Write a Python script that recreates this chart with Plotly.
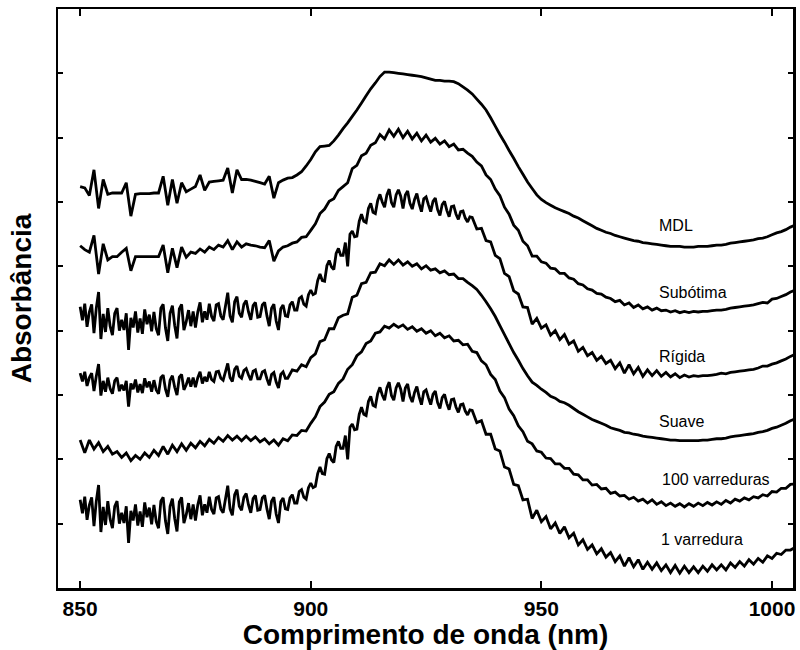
import plotly.graph_objects as go

# ---------------- data (absorbance, arbitrary offset units) ----------------
# 1 nm grid for the smoother spectra
wavelength = list(range(850, 1006))
# 0.5 nm grid in the noisy region, then 1 nm
wavelength_fine_935 = [850 + 0.5 * i for i in range(171)] + list(range(936, 1006))
wavelength_fine_895 = [850 + 0.5 * i for i in range(91)] + list(range(896, 1006))

mdl = [
    6.24, 6.22, 6.10, 6.50, 5.90, 6.35, 6.12, 6.14, 6.14, 6.14,
    6.30, 5.78, 6.12, 6.13, 6.13, 6.13, 6.14, 6.14, 6.40, 5.95,
    6.35, 5.98, 6.30, 6.16, 6.20, 6.24, 6.42, 6.18, 6.31, 6.32,
    6.33, 6.34, 6.53, 6.14, 6.50, 6.35, 6.35, 6.34, 6.32, 6.30,
    6.28, 6.40, 6.06, 6.30, 6.34, 6.37, 6.38, 6.42, 6.47, 6.56,
    6.66, 6.78, 6.86, 6.87, 6.88, 6.95, 7.04, 7.14, 7.23, 7.33,
    7.43, 7.54, 7.65, 7.76, 7.85, 7.95, 8.02, 8.02, 8.01, 8.00,
    7.99, 7.98, 7.97, 7.96, 7.95, 7.93, 7.91, 7.89, 7.89, 7.88,
    7.88, 7.87, 7.84, 7.79, 7.74, 7.68, 7.60, 7.52, 7.43, 7.31,
    7.18, 7.05, 6.93, 6.80, 6.68, 6.55, 6.43, 6.31, 6.21, 6.11,
    6.04, 5.99, 5.95, 5.91, 5.88, 5.85, 5.82, 5.78, 5.75, 5.71,
    5.67, 5.63, 5.59, 5.56, 5.53, 5.51, 5.48, 5.46, 5.44, 5.42,
    5.40, 5.39, 5.37, 5.36, 5.35, 5.34, 5.33, 5.32, 5.31, 5.31,
    5.31, 5.30, 5.30, 5.30, 5.31, 5.31, 5.31, 5.32, 5.33, 5.33,
    5.34, 5.36, 5.37, 5.38, 5.39, 5.40, 5.41, 5.43, 5.44, 5.46,
    5.49, 5.52, 5.54, 5.57, 5.61, 5.64,
]

subotima = [
    5.32, 5.26, 5.22, 5.48, 4.88, 5.35, 5.10, 5.15, 5.15, 5.22,
    5.28, 4.93, 5.15, 5.15, 5.15, 5.15, 5.15, 5.15, 5.33, 4.90,
    5.28, 4.98, 5.30, 5.14, 5.22, 5.20, 5.27, 5.22, 5.30, 5.26,
    5.33, 5.30, 5.40, 5.26, 5.38, 5.30, 5.35, 5.33, 5.32, 5.30,
    5.29, 5.40, 5.08, 5.24, 5.30, 5.32, 5.36, 5.38, 5.45, 5.46,
    5.56, 5.66, 5.82, 5.89, 6.01, 6.05, 6.18, 6.24, 6.30, 6.52,
    6.57, 6.72, 6.76, 6.88, 6.92, 7.05, 6.98, 7.12, 7.02, 7.13,
    7.00, 7.10, 6.98, 7.07, 6.95, 7.04, 6.93, 6.99, 6.90, 6.95,
    6.86, 6.90, 6.81, 6.82, 6.76, 6.71, 6.62, 6.56, 6.42, 6.35,
    6.20, 6.10, 5.92, 5.81, 5.64, 5.56, 5.39, 5.32, 5.16, 5.16,
    5.07, 5.05, 4.97, 4.96, 4.89, 4.89, 4.82, 4.80, 4.73, 4.71,
    4.65, 4.63, 4.58, 4.57, 4.52, 4.50, 4.45, 4.47, 4.40, 4.43,
    4.36, 4.40, 4.34, 4.37, 4.32, 4.35, 4.31, 4.32, 4.29, 4.31,
    4.28, 4.30, 4.28, 4.30, 4.29, 4.30, 4.30, 4.31, 4.32, 4.32,
    4.33, 4.35, 4.36, 4.37, 4.38, 4.39, 4.40, 4.42, 4.44, 4.43,
    4.49, 4.50, 4.53, 4.56, 4.60, 4.63,
]

rigida = [
    # 850.0 - 935.0 every 0.5 nm
    4.37, 4.16, 4.42, 4.06, 4.29, 4.41, 3.96, 4.35, 4.60, 3.87,
    4.26, 3.98, 4.35, 4.07, 3.93, 4.27, 4.35, 4.00, 4.17, 4.01,
    4.27, 3.70, 4.20, 4.05, 4.30, 3.97, 4.19, 3.95, 4.33, 4.10,
    4.25, 3.99, 4.29, 4.03, 3.93, 4.35, 4.41, 4.04, 3.84, 4.27,
    4.39, 4.08, 3.88, 4.34, 4.41, 4.01, 4.14, 4.32, 4.07, 4.30,
    4.05, 4.29, 4.44, 4.13, 4.30, 4.17, 4.42, 4.22, 4.15, 4.40,
    4.42, 4.23, 4.17, 4.38, 4.59, 4.23, 4.13, 4.45, 4.53, 4.27,
    4.21, 4.41, 4.47, 4.29, 4.17, 4.39, 4.44, 4.21, 4.22, 4.40,
    4.44, 4.23, 4.07, 4.35, 4.41, 4.15, 4.01, 4.34, 4.40, 4.23,
    4.22, 4.40, 4.45, 4.32, 4.32, 4.50, 4.53, 4.41, 4.38, 4.56,
    4.63, 4.56, 4.58, 4.78, 4.88, 4.78, 4.77, 5.01, 5.09, 4.99,
    4.95, 5.20, 5.28, 5.17, 5.17, 5.37, 5.00, 5.50, 5.55, 5.46,
    5.47, 5.70, 5.81, 5.70, 5.68, 5.90, 5.98, 5.84, 5.82, 6.02,
    6.12, 6.00, 5.92, 6.11, 6.20, 5.99, 5.92, 6.11, 6.19, 6.09,
    5.90, 6.11, 6.17, 5.98, 5.89, 6.04, 6.13, 5.97, 5.85, 6.05,
    6.08, 5.96, 5.85, 6.01, 6.06, 5.88, 5.79, 5.96, 6.01, 5.87,
    5.77, 5.93, 5.94, 5.81, 5.73, 5.85, 5.86, 5.75, 5.69, 5.77,
    5.76,
    # 936 - 1005 every 1 nm
    5.58, 5.59, 5.40, 5.38,
    5.17, 5.12, 4.89, 4.84, 4.62, 4.57, 4.37, 4.36, 4.10, 4.19,
    4.04, 4.09, 3.93, 4.00, 3.86, 3.94, 3.79, 3.84, 3.68, 3.74,
    3.61, 3.66, 3.54, 3.60, 3.49, 3.54, 3.41, 3.50, 3.34, 3.47,
    3.33, 3.43, 3.29, 3.39, 3.30, 3.38, 3.29, 3.35, 3.28, 3.33,
    3.27, 3.31, 3.28, 3.30, 3.29, 3.30, 3.30, 3.31, 3.32, 3.34,
    3.33, 3.35, 3.36, 3.37, 3.38, 3.39, 3.40, 3.42, 3.45, 3.45,
    3.48, 3.50, 3.53, 3.56, 3.60, 3.63,
]

suave = [
    # 850.0 - 895.0 every 0.5 nm
    3.34, 3.21, 3.36, 3.14, 3.27, 3.34, 3.06, 3.29, 3.48, 2.99,
    3.22, 3.05, 3.27, 3.10, 3.02, 3.22, 3.27, 3.06, 3.16, 3.07,
    3.22, 2.82, 3.18, 3.09, 3.24, 3.04, 3.17, 3.03, 3.26, 3.12,
    3.21, 3.05, 3.23, 3.08, 3.02, 3.27, 3.31, 3.09, 2.97, 3.23,
    3.30, 3.12, 3.00, 3.28, 3.32, 3.08, 3.16, 3.27, 3.13, 3.27,
    3.12, 3.27, 3.36, 3.18, 3.28, 3.21, 3.36, 3.24, 3.21, 3.36,
    3.37, 3.26, 3.23, 3.36, 3.49, 3.27, 3.21, 3.40, 3.45, 3.29,
    3.26, 3.38, 3.41, 3.31, 3.23, 3.37, 3.39, 3.25, 3.25, 3.36,
    3.38, 3.25, 3.15, 3.32, 3.35, 3.20, 3.11, 3.32, 3.36, 3.26,
    3.26,
    # 896 - 1005 every 1 nm
    3.39, 3.37, 3.47, 3.44,
    3.58, 3.64, 3.83, 3.86, 4.03, 4.03, 4.20, 4.24, 4.26, 4.52,
    4.55, 4.73, 4.75, 4.90, 4.91, 5.04, 5.01, 5.10, 5.03, 5.10,
    5.02, 5.07, 5.00, 5.04, 4.96, 5.01, 4.94, 4.96, 4.90, 4.93,
    4.87, 4.88, 4.81, 4.81, 4.75, 4.70, 4.64, 4.55, 4.45, 4.34,
    4.22, 4.08, 3.94, 3.80, 3.66, 3.54, 3.41, 3.30, 3.20, 3.15,
    3.09, 3.04, 2.98, 2.95, 2.90, 2.88, 2.84, 2.79, 2.74, 2.70,
    2.66, 2.62, 2.59, 2.56, 2.53, 2.49, 2.47, 2.45, 2.42, 2.41,
    2.39, 2.38, 2.36, 2.35, 2.34, 2.33, 2.32, 2.31, 2.30, 2.30,
    2.29, 2.29, 2.29, 2.29, 2.29, 2.30, 2.30, 2.31, 2.32, 2.32,
    2.33, 2.35, 2.36, 2.37, 2.38, 2.39, 2.40, 2.42, 2.43, 2.45,
    2.48, 2.50, 2.53, 2.56, 2.60, 2.63,
]

varreduras_100 = [
    2.30, 2.10, 2.30, 2.16, 2.26, 2.12, 2.20, 2.08, 2.12, 2.03,
    2.10, 1.98, 2.06, 2.00, 2.10, 2.03, 2.14, 2.06, 2.20, 2.08,
    2.22, 2.12, 2.24, 2.14, 2.25, 2.18, 2.28, 2.21, 2.31, 2.25,
    2.34, 2.28, 2.37, 2.30, 2.36, 2.29, 2.36, 2.29, 2.35, 2.27,
    2.32, 2.24, 2.30, 2.22, 2.32, 2.29, 2.38, 2.37, 2.45, 2.44,
    2.56, 2.66, 2.82, 2.89, 3.01, 3.05, 3.18, 3.25, 3.40, 3.47,
    3.61, 3.67, 3.80, 3.84, 3.96, 3.98, 4.07, 4.04, 4.10, 4.05,
    4.09, 4.02, 4.06, 3.99, 4.03, 3.96, 4.00, 3.92, 3.96, 3.89,
    3.92, 3.84, 3.85, 3.78, 3.79, 3.68, 3.66, 3.53, 3.47, 3.32,
    3.24, 3.06, 2.96, 2.78, 2.68, 2.52, 2.43, 2.28, 2.24, 2.13,
    2.11, 2.02, 2.01, 1.93, 1.93, 1.86, 1.86, 1.77, 1.76, 1.68,
    1.68, 1.60, 1.61, 1.54, 1.55, 1.47, 1.49, 1.43, 1.44, 1.38,
    1.41, 1.35, 1.38, 1.32, 1.37, 1.30, 1.34, 1.28, 1.32, 1.27,
    1.31, 1.26, 1.31, 1.27, 1.32, 1.28, 1.33, 1.29, 1.34, 1.30,
    1.36, 1.32, 1.38, 1.35, 1.40, 1.37, 1.42, 1.40, 1.45, 1.43,
    1.50, 1.49, 1.55, 1.55, 1.61, 1.62,
]

varredura_1 = [
    # 850.0 - 935.0 every 0.5 nm
    1.37, 1.16, 1.42, 1.06, 1.29, 1.41, 0.96, 1.35, 1.60, 0.87,
    1.26, 0.98, 1.35, 1.07, 0.93, 1.27, 1.35, 1.00, 1.17, 1.01,
    1.27, 0.70, 1.20, 1.05, 1.30, 0.97, 1.19, 0.95, 1.33, 1.10,
    1.25, 0.99, 1.29, 1.03, 0.93, 1.35, 1.41, 1.04, 0.84, 1.27,
    1.39, 1.08, 0.88, 1.34, 1.41, 1.01, 1.14, 1.32, 1.07, 1.30,
    1.05, 1.29, 1.44, 1.13, 1.30, 1.17, 1.42, 1.22, 1.15, 1.40,
    1.42, 1.23, 1.17, 1.38, 1.59, 1.23, 1.13, 1.45, 1.53, 1.27,
    1.21, 1.41, 1.47, 1.29, 1.17, 1.39, 1.44, 1.21, 1.22, 1.40,
    1.44, 1.23, 1.07, 1.35, 1.41, 1.15, 1.01, 1.34, 1.40, 1.23,
    1.22, 1.40, 1.45, 1.32, 1.32, 1.50, 1.53, 1.41, 1.38, 1.56,
    1.63, 1.56, 1.58, 1.78, 1.88, 1.78, 1.77, 2.01, 2.09, 1.99,
    1.95, 2.20, 2.28, 2.17, 2.17, 2.37, 2.00, 2.50, 2.55, 2.46,
    2.47, 2.70, 2.81, 2.70, 2.68, 2.90, 2.98, 2.84, 2.82, 3.02,
    3.12, 3.00, 2.92, 3.11, 3.20, 2.99, 2.92, 3.11, 3.19, 3.09,
    2.90, 3.11, 3.17, 2.98, 2.89, 3.04, 3.13, 2.97, 2.85, 3.05,
    3.08, 2.96, 2.85, 3.01, 3.06, 2.88, 2.79, 2.96, 3.01, 2.87,
    2.77, 2.93, 2.94, 2.81, 2.73, 2.85, 2.86, 2.75, 2.69, 2.77,
    2.76,
    # 936 - 1005 every 1 nm
    2.57, 2.60, 2.39, 2.39,
    2.16, 2.13, 1.88, 1.85, 1.61, 1.59, 1.37, 1.38, 1.08, 1.21,
    1.03, 1.11, 0.92, 1.01, 0.85, 0.95, 0.78, 0.85, 0.67, 0.75,
    0.60, 0.67, 0.53, 0.61, 0.48, 0.55, 0.41, 0.50, 0.34, 0.47,
    0.33, 0.44, 0.29, 0.40, 0.29, 0.39, 0.27, 0.36, 0.24, 0.35,
    0.23, 0.34, 0.24, 0.33, 0.24, 0.34, 0.26, 0.36, 0.28, 0.36,
    0.28, 0.39, 0.32, 0.41, 0.34, 0.44, 0.37, 0.46, 0.40, 0.50,
    0.46, 0.54, 0.52, 0.59, 0.59, 0.63,
]

series_names = ["MDL", "Subótima", "Rígida", "Suave", "100 varreduras", "1 varredura"]
series_values = [mdl, subotima, rigida, suave, varreduras_100, varredura_1]
series_x = [wavelength, wavelength, wavelength_fine_935, wavelength_fine_895,
            wavelength, wavelength_fine_935]
x_tick_values = [850, 900, 950, 1000]
y_tick_values = [1, 2, 3, 4, 5, 6, 7, 8]

# ---------------- figure ----------------
FONT = "Liberation Sans, Arial, Helvetica, sans-serif"

fig = go.Figure()
for name, xs, vals in zip(series_names, series_x, series_values):
    assert len(vals) == len(xs), name
    fig.add_trace(go.Scatter(
        x=xs, y=vals, mode="lines", name=name,
        line=dict(color="black", width=2.8, simplify=False),
        hoverinfo="skip",
    ))

# curve labels (layout placement)
label_pos = [(975.1, 5.63), (975.1, 4.59), (975.1, 3.60),
             (975.1, 2.59), (975.8, 1.68), (975.5, 0.75)]
for name, (lx, ly) in zip(series_names, label_pos):
    fig.add_annotation(x=lx, y=ly, text=name, showarrow=False,
                       xanchor="left", yanchor="middle",
                       font=dict(family=FONT, size=16, color="black"))

fig.update_layout(
    width=800, height=650,
    margin=dict(l=58, r=7, t=9, b=62),
    paper_bgcolor="white", plot_bgcolor="white",
    showlegend=False,
    hovermode=False,
    font=dict(family=FONT, color="black"),
    xaxis=dict(
        range=[845.2, 1004.55], tickvals=x_tick_values,
        ticks="inside", ticklen=7, tickwidth=2, tickcolor="black",
        showline=True, linewidth=2.5, linecolor="black", mirror="ticks",
        showgrid=False, zeroline=False,
        tickfont=dict(family=FONT, size=21, weight="bold", color="black"),
        title=dict(text="Comprimento de onda (nm)", standoff=3,
                   font=dict(family=FONT, size=28, weight="bold", color="black")),
        automargin=False,
    ),
    yaxis=dict(
        range=[0, 9], tickvals=y_tick_values, showticklabels=False,
        ticks="inside", ticklen=5, tickwidth=2, tickcolor="black",
        showline=True, linewidth=2.5, linecolor="black", mirror="ticks",
        showgrid=False, zeroline=False,
        title=dict(text="Absorbância", standoff=16,
                   font=dict(family=FONT, size=28, weight="bold", color="black")),
        automargin=False,
    ),
)

# remove the default 8 px page margin so the 800x650 figure fills the window
fig.write_html("out.html",
               config={"displayModeBar": False, "staticPlot": True},
               post_script="document.body.style.margin='0px';document.body.style.overflow='hidden';")
